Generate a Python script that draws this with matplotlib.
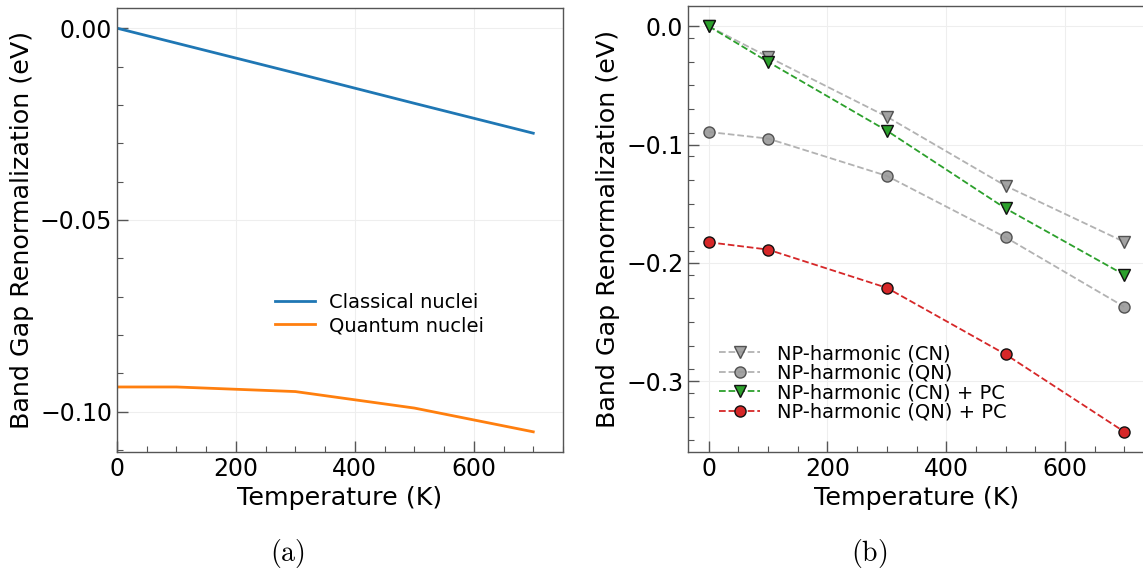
import matplotlib
matplotlib.use("Agg")
import matplotlib.pyplot as plt
import numpy as np

plt.rcParams['mathtext.fontset'] = 'cm'

# Panel (a)
temps_a = [0, 100, 300, 500, 700]
classical = [0.0, -0.0039, -0.0117, -0.0196, -0.0274]
quantum = [-0.0936, -0.0936, -0.0948, -0.0991, -0.1053]

# Panel (b)
temps_b = [0, 100, 300, 500, 700]
np_cn = [0.0, -0.0259, -0.0764, -0.1348, -0.1822]
np_qn = [-0.0893, -0.0949, -0.1264, -0.1783, -0.2370]
np_cn_pc = [0.0, -0.0301, -0.0882, -0.1539, -0.2100]
np_qn_pc = [-0.1825, -0.1887, -0.2210, -0.2772, -0.3426]

labels_a = ["Classical nuclei", "Quantum nuclei"]
labels_b = ["NP-harmonic (CN)", "NP-harmonic (QN)", "NP-harmonic (CN) + PC", "NP-harmonic (QN) + PC"]
xlabel = "Temperature (K)"
ylabel = "Band Gap Renormalization (eV)"

W, H = 1143, 576
fig = plt.figure(figsize=(W/100, H/100), dpi=100)
ax1 = fig.add_axes([117/W, 1-452/H, 446/W, 444/H])
ax2 = fig.add_axes([688/W, 1-452/H, 457/W, 446/H])

def style(ax):
    for s in ax.spines.values():
        s.set_color('#555555')
        s.set_linewidth(1.0)
    ax.tick_params(which='both', direction='in', colors='#555555', labelcolor='black', labelsize=17)
    ax.tick_params(which='major', length=8, width=1.0)
    ax.tick_params(which='minor', length=4, width=0.8)
    ax.grid(True, which='major', color='#eeeeee', linewidth=0.8)
    ax.set_axisbelow(True)
    ax.set_xlabel(xlabel, fontsize=18.3)
    ax.set_ylabel(ylabel, fontsize=18.3)

ax1.plot(temps_a, classical, color='#1f77b4', lw=2, label=labels_a[0])
ax1.plot(temps_a, quantum, color='#ff7f0e', lw=2, label=labels_a[1])
ax1.set_xlim(0, 750)
ax1.set_xticks([0, 200, 400, 600])
ax1.set_xticks(np.arange(0, 751, 50), minor=True)
ax1.set_yticks([0.0, -0.05, -0.10])
ax1.set_yticks(np.arange(-0.11, 0.0051, 0.01), minor=True)
ax1.yaxis.set_major_formatter(matplotlib.ticker.FuncFormatter(lambda v, p: ('%.2f' % v).replace('-', '\u2212') if abs(v) > 1e-9 else '0.00'))
style(ax1)
ax1.legend(loc='upper left', bbox_to_anchor=(0.336, 0.375), borderaxespad=0, frameon=False,
           fontsize=14, handlelength=2.1, handletextpad=0.72, labelspacing=0.2)

ax2.plot(temps_b, np_cn, ls='--', color='#aaaaaa', lw=1.3, marker='v', ms=8,
         mfc='#999999', mec='#444444', mew=1.0, alpha=0.9, label=labels_b[0])
ax2.plot(temps_b, np_qn, ls='--', color='#aaaaaa', lw=1.3, marker='o', ms=8,
         mfc='#999999', mec='#444444', mew=1.0, alpha=0.9, label=labels_b[1])
ax2.plot(temps_b, np_cn_pc, ls='--', color='#2ca02c', lw=1.3, marker='v', ms=8,
         mfc='#2ca02c', mec='#111111', mew=1.0, label=labels_b[2])
ax2.plot(temps_b, np_qn_pc, ls='--', color='#d62728', lw=1.3, marker='o', ms=8,
         mfc='#d62728', mec='#111111', mew=1.0, label=labels_b[3])
ax2.set_xticks([0, 200, 400, 600])
ax2.set_xticks(np.arange(0, 701, 50), minor=True)
ax2.set_yticks([0.0, -0.1, -0.2, -0.3])
ax2.set_yticks(np.arange(-0.35, 0.001, 0.02), minor=True)
ax2.yaxis.set_major_formatter(matplotlib.ticker.FuncFormatter(lambda v, p: ('%.1f' % v).replace('-', '\u2212') if abs(v) > 1e-9 else '0.0'))
style(ax2)
ax2.legend(loc='upper left', bbox_to_anchor=(0.051, 0.259), borderaxespad=0, frameon=False,
           fontsize=14, handlelength=2.1, handletextpad=0.9, labelspacing=0.02)

fig.text(287/W, 1-553/H, r'$\mathrm{(a)}$', fontsize=20, ha='center', va='center')
fig.text(869/W, 1-553/H, r'$\mathrm{(b)}$', fontsize=20, ha='center', va='center')

fig.savefig('out.png', dpi=100)
